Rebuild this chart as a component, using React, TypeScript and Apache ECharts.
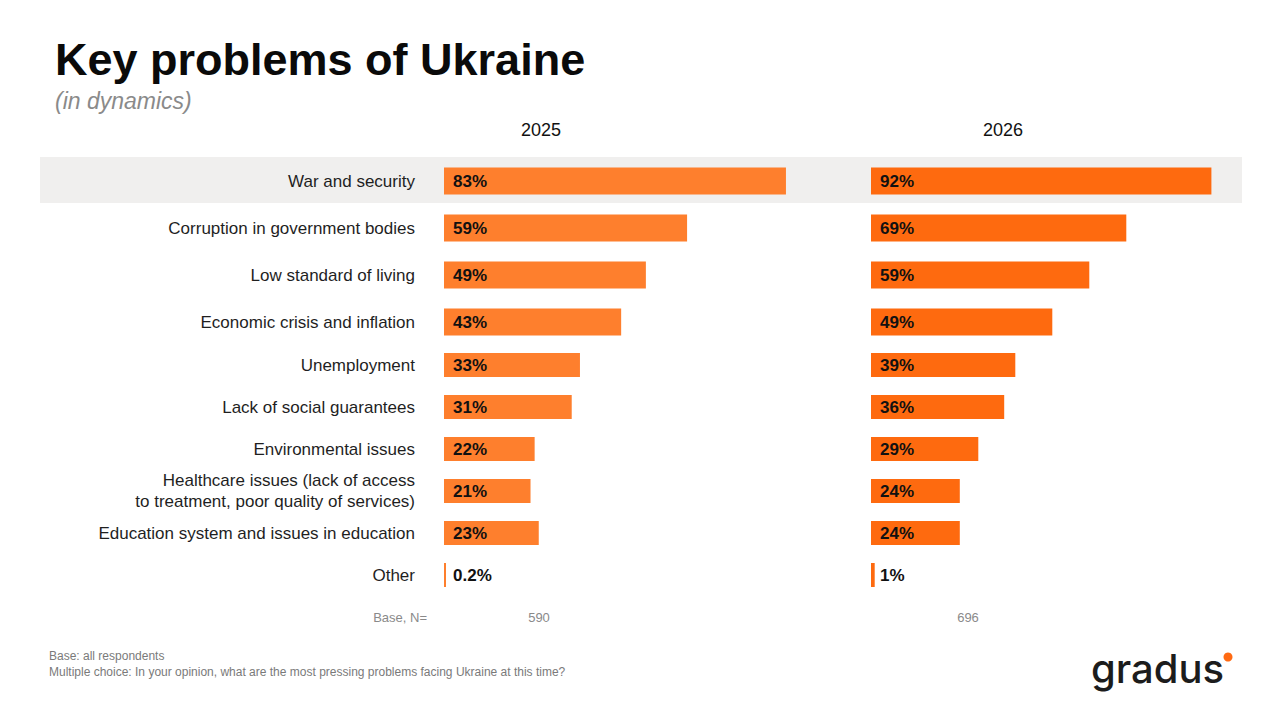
import React, { useEffect, useRef } from "react";
import * as echarts from "echarts";

// Problems, ordered as listed in the survey results
const categories = [
  "War and security",
  "Corruption in government bodies",
  "Low standard of living",
  "Economic crisis and inflation",
  "Unemployment",
  "Lack of social guarantees",
  "Environmental issues",
  "Healthcare issues (lack of access\nto treatment, poor quality of services)",
  "Education system and issues in education",
  "Other",
];

// Share of respondents naming each problem, %
const values2025 = [83, 59, 49, 43, 33, 31, 22, 21, 23, 0.2];
const values2026 = [92, 69, 59, 49, 39, 36, 29, 24, 24, 1];

const years = ["2025", "2026"];
const baseN = [590, 696];

// First block of rows (larger spacing) vs the rest
const SPLIT = 4;

const FONT = "'Liberation Sans', Arial, sans-serif";
const COLOR_2025 = "#fe7f2d";
const COLOR_2026 = "#fe6a0f";

export default function App() {
  const ref = useRef<HTMLDivElement>(null);

  useEffect(() => {
    if (!ref.current) return;
    const chart = echarts.init(ref.current, null, { renderer: "svg" });

    const topCats = categories.slice(0, SPLIT);
    const bottomCats = categories.slice(SPLIT);

    const grids = [
      { left: 444, top: 157.5, width: 412, height: 188 },
      { left: 871, top: 157.5, width: 370, height: 188 },
      { left: 444, top: 344, width: 412, height: 252 },
      { left: 871, top: 344, width: 370, height: 252 },
    ];

    const xAxis = grids.map((_, i) => ({
      type: "value",
      gridIndex: i,
      min: 0,
      max: 100,
      show: false,
    }));

    const yAxis = grids.map((_, i) => ({
      type: "category",
      gridIndex: i,
      inverse: true,
      data: i < 2 ? topCats : bottomCats,
      axisLine: { show: false },
      axisTick: { show: false },
      splitLine: { show: false },
      axisLabel: {
        show: i % 2 === 0,
        margin: 29,
        fontFamily: FONT,
        fontSize: 17,
        color: "#1f1f1f",
        lineHeight: 21,
        align: "right",
      },
    }));

    const barLabel = {
      show: true,
      position: "insideLeft",
      distance: 9,
      fontFamily: FONT,
      fontSize: 17,
      fontWeight: "bold",
      color: "#111111",
      formatter: (p: any) => `${p.value}%`,
    };

    const mkSeries = (idx: number, data: number[], color: string, barWidth: number) => ({
      type: "bar",
      xAxisIndex: idx,
      yAxisIndex: idx,
      data,
      barWidth,
      barMinHeight: 2,
      itemStyle: { color },
      label: barLabel,
      z: 3,
    });

    const series = [
      mkSeries(0, values2025.slice(0, SPLIT), COLOR_2025, 27),
      mkSeries(1, values2026.slice(0, SPLIT), COLOR_2026, 27),
      mkSeries(2, values2025.slice(SPLIT), COLOR_2025, 24),
      mkSeries(3, values2026.slice(SPLIT), COLOR_2026, 24),
    ];

    const graphic: any[] = [
      // highlighted first row
      {
        type: "rect",
        z: -10,
        shape: { x: 40, y: 157, width: 1202, height: 46 },
        style: { fill: "#f0efee" },
      },
      {
        type: "text",
        x: 55,
        y: 59,
        style: {
          text: "Key problems of Ukraine",
          fontFamily: FONT,
          fontSize: 45,
          fontWeight: "bold",
          fill: "#0a0a0a",
          verticalAlign: "middle",
        },
      },
      {
        type: "text",
        x: 55,
        y: 101,
        style: {
          text: "(in dynamics)",
          fontFamily: FONT,
          fontSize: 23,
          fontStyle: "italic",
          fill: "#8a8a8a",
          verticalAlign: "middle",
        },
      },
      {
        type: "text",
        x: 541,
        y: 130,
        style: { text: years[0], fontFamily: FONT, fontSize: 18, fill: "#111", align: "center", verticalAlign: "middle" },
      },
      {
        type: "text",
        x: 1003,
        y: 130,
        style: { text: years[1], fontFamily: FONT, fontSize: 18, fill: "#111", align: "center", verticalAlign: "middle" },
      },
      {
        type: "text",
        x: 427,
        y: 617,
        style: { text: "Base, N=", fontFamily: FONT, fontSize: 13, fill: "#8a8a8a", align: "right", verticalAlign: "middle" },
      },
      {
        type: "text",
        x: 539,
        y: 617,
        style: { text: String(baseN[0]), fontFamily: FONT, fontSize: 13, fill: "#8a8a8a", align: "center", verticalAlign: "middle" },
      },
      {
        type: "text",
        x: 968,
        y: 617,
        style: { text: String(baseN[1]), fontFamily: FONT, fontSize: 13, fill: "#8a8a8a", align: "center", verticalAlign: "middle" },
      },
      {
        type: "text",
        x: 49,
        y: 656,
        style: { text: "Base: all respondents", fontFamily: FONT, fontSize: 12, fill: "#7a7a7a", verticalAlign: "middle" },
      },
      {
        type: "text",
        x: 49,
        y: 672,
        style: {
          text: "Multiple choice: In your opinion, what are the most pressing problems facing Ukraine at this time?",
          fontFamily: FONT,
          fontSize: 12,
          fill: "#7a7a7a",
          verticalAlign: "middle",
        },
      },
      // brand mark
      {
        type: "text",
        x: 1091,
        y: 668,
        style: {
          text: "gradus",
          fontFamily: "Inter, 'Noto Sans', sans-serif",
          fontSize: 40,
          fontWeight: 500,
          fill: "#1c1c1c",
          verticalAlign: "middle",
        },
      },
      {
        type: "circle",
        shape: { cx: 1228, cy: 657, r: 4.5 },
        style: { fill: "#ff6a13" },
      },
    ];

    chart.setOption({
      animation: false,
      backgroundColor: "#ffffff",
      grid: grids.map((g) => ({ ...g, containLabel: false })),
      xAxis,
      yAxis,
      series,
      graphic,
    });

    return () => chart.dispose();
  }, []);

  return (
    <div
      ref={ref}
      style={{ position: "fixed", left: 0, top: 0, width: 1280, height: 719 }}
    />
  );
}
